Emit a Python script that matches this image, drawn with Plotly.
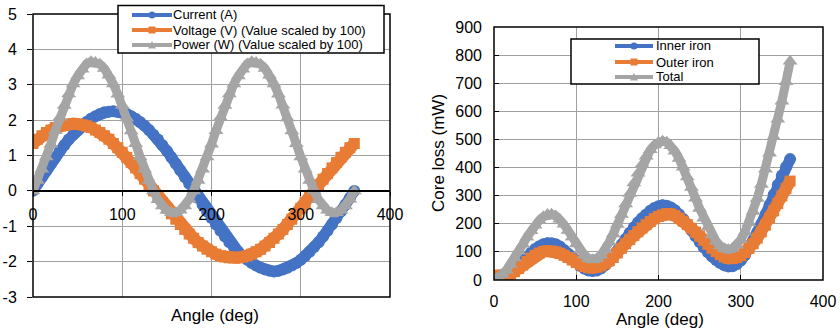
import plotly.graph_objects as go

# ---------------- data ----------------
angle = list(range(0, 361, 5))

current = [0, 0.20, 0.39, 0.58, 0.77, 0.95, 1.13, 1.29, 1.45, 1.59, 1.72, 1.84, 1.95, 2.04, 2.11, 2.17, 2.22, 2.24, 2.25,
           2.24, 2.22, 2.17, 2.11, 2.04, 1.95, 1.84, 1.72, 1.59, 1.45, 1.29, 1.13, 0.95, 0.77, 0.58, 0.39, 0.20, 0.00,
           -0.20, -0.39, -0.58, -0.77, -0.95, -1.13, -1.29, -1.45, -1.59, -1.72, -1.84, -1.95, -2.04, -2.11, -2.17, -2.22, -2.26, -2.28,
           -2.26, -2.22, -2.17, -2.11, -2.04, -1.95, -1.84, -1.72, -1.59, -1.45, -1.29, -1.13, -0.95, -0.77, -0.58, -0.39, -0.20, 0.00]

voltage = [1.34, 1.46, 1.56, 1.65, 1.72, 1.79, 1.84, 1.87, 1.89, 1.90, 1.89, 1.87, 1.84, 1.79, 1.72, 1.65, 1.56, 1.46, 1.34,
           1.22, 1.09, 0.95, 0.80, 0.65, 0.49, 0.33, 0.17, 0.00, -0.17, -0.33, -0.49, -0.65, -0.80, -0.95, -1.09, -1.22, -1.34,
           -1.46, -1.56, -1.65, -1.72, -1.79, -1.84, -1.87, -1.89, -1.90, -1.89, -1.87, -1.84, -1.79, -1.72, -1.65, -1.56, -1.46, -1.34,
           -1.22, -1.09, -0.95, -0.80, -0.65, -0.49, -0.33, -0.17, 0.00, 0.17, 0.33, 0.49, 0.65, 0.80, 0.95, 1.09, 1.22, 1.34]

power = [0, 0.29, 0.61, 0.96, 1.32, 1.70, 2.08, 2.41, 2.74, 3.02, 3.25, 3.44, 3.59, 3.65, 3.63, 3.58, 3.46, 3.27, 3.02,
         2.73, 2.42, 2.06, 1.69, 1.33, 0.96, 0.61, 0.29, 0.00, -0.25, -0.43, -0.55, -0.62, -0.62, -0.55, -0.43, -0.24, 0.00,
         0.29, 0.61, 0.96, 1.32, 1.70, 2.08, 2.41, 2.74, 3.02, 3.25, 3.44, 3.59, 3.65, 3.63, 3.58, 3.46, 3.27, 3.02,
         2.73, 2.42, 2.06, 1.69, 1.33, 0.96, 0.61, 0.29, 0.00, -0.25, -0.43, -0.55, -0.62, -0.62, -0.55, -0.43, -0.24, 0.00]

inner_iron = [0, 2, 6, 12, 22, 35, 50, 66, 82, 97, 110, 120, 127, 131, 131, 127, 119, 107, 93,
              78, 63, 50, 40, 34, 32, 34, 41, 52, 67, 82, 100, 125, 146, 168, 188, 205, 220,
              233, 246, 256, 262, 266, 264, 258, 248, 234, 217, 198, 177, 156, 135, 116, 99, 84, 71,
              60, 52, 48, 49, 56, 69, 88, 112, 139, 168, 199, 232, 267, 303, 338, 372, 402, 430]

outer_iron = [15, 14, 14, 16, 21, 30, 41, 53, 66, 78, 88, 96, 101, 103, 103, 100, 95, 88, 80,
              71, 62, 54, 48, 44, 43, 45, 50, 58, 68, 80, 96, 113, 129, 144, 158, 172, 185,
              197, 208, 218, 226, 232, 236, 235, 229, 220, 209, 197, 184, 170, 156, 141, 127, 113, 101,
              90, 82, 77, 76, 80, 87, 98, 112, 129, 149, 171, 195, 220, 246, 272, 299, 325, 352]

total = [0, 8, 20, 35, 55, 78, 102, 127, 152, 175, 195, 212, 225, 233, 234, 228, 216, 198, 176,
         152, 128, 106, 88, 76, 72, 76, 88, 108, 134, 164, 197, 233, 270, 308, 345, 380, 412,
         440, 463, 480, 490, 494, 490, 478, 458, 432, 401, 366, 329, 291, 254, 220, 188, 160, 138,
         121, 111, 108, 112, 124, 143, 170, 204, 244, 290, 340, 394, 451, 510, 572, 636, 705, 778]

left_names = ["Current (A)", "Voltage (V) (Value scaled by 100)", "Power (W) (Value scaled by 100)"]
right_names = ["Inner iron", "Outer iron", "Total"]
left_xticks = [0, 100, 200, 300, 400]
left_yticks = [-3, -2, -1, 0, 1, 2, 3, 4, 5]
right_xticks = [0, 100, 200, 300, 400]
right_yticks = [0, 100, 200, 300, 400, 500, 600, 700, 800, 900]
x_title = "Angle (deg)"
right_y_title = "Core loss (mW)"

# ---------------- style ----------------
W, H = 840, 331
BLUE, ORANGE, GRAY = "#4472C4", "#E97C35", "#A5A5A5"
GRID = "#a0a0a0"
FONT = "Liberation Sans, Arial, sans-serif"


def fx(p):
    return p / W


def fy(p):
    return 1 - p / H


L_X0, L_X1, L_Y0, L_Y1 = 33, 390, 14, 297   # left plot area (px)
R_X0, R_X1, R_Y0, R_Y1 = 494, 823, 27, 280  # right plot area (px)

fig = go.Figure()

# (color, symbol, marker size, line width)
styles = [(BLUE, "circle", 12, 11), (ORANGE, "square", 11, 12), (GRAY, "triangle-up", 13, 9)]
for name, vals, (col, sym, sz, lw) in zip(left_names, [current, voltage, power], styles):
    fig.add_trace(go.Scatter(x=angle, y=vals, name=name, mode="lines+markers",
                             line=dict(color=col, width=lw),
                             marker=dict(symbol=sym, size=sz, color=col, line=dict(width=0)),
                             xaxis="x", yaxis="y", showlegend=False))
for name, vals, (col, sym, sz, lw) in zip(right_names, [inner_iron, outer_iron, total], styles):
    fig.add_trace(go.Scatter(x=angle, y=vals, name=name, mode="lines+markers",
                             line=dict(color=col, width=lw),
                             marker=dict(symbol=sym, size=sz, color=col, line=dict(width=0)),
                             xaxis="x2", yaxis="y2", showlegend=False))

ly_dom = [fy(L_Y1), fy(L_Y0)]
zero_pos = ly_dom[0] + (0 - (-3)) / (5 - (-3)) * (ly_dom[1] - ly_dom[0])

tickfont = dict(family=FONT, size=16, color="black")

fig.update_layout(
    width=W, height=H, margin=dict(l=0, r=0, t=0, b=0, pad=0),
    paper_bgcolor="white", plot_bgcolor="white",
    font=dict(family=FONT, color="black"),
    xaxis=dict(domain=[fx(L_X0), fx(L_X1)], range=[0, 400], anchor="free", position=zero_pos,
               automargin=False,
               tickmode="array", tickvals=left_xticks, ticktext=[str(v) for v in left_xticks],
               showgrid=True, gridcolor=GRID, gridwidth=1, zeroline=False,
               showline=True, linecolor="black", linewidth=1.5,
               ticks="outside", ticklen=4, tickcolor="black", tickfont=tickfont,
               ticklabelstandoff=5),
    yaxis=dict(domain=ly_dom, range=[-3, 5], automargin=False,
               tickmode="array", tickvals=left_yticks, ticktext=[str(v) for v in left_yticks],
               showgrid=True, gridcolor=GRID, gridwidth=1, zeroline=False,
               showline=False, ticks="outside", ticklen=5, tickcolor="black",
               tickfont=tickfont, ticklabelstandoff=7),
    xaxis2=dict(domain=[fx(R_X0), fx(R_X1)], range=[0, 400], anchor="y2", automargin=False,
                tickmode="array", tickvals=right_xticks, ticktext=[str(v) for v in right_xticks],
                showgrid=True, gridcolor=GRID, gridwidth=1, zeroline=False,
                showline=False, ticks="inside", ticklen=5, tickcolor="black",
                tickfont=tickfont, ticklabelstandoff=10),
    yaxis2=dict(domain=[fy(R_Y1), fy(R_Y0)], range=[0, 900], anchor="x2", automargin=False,
                tickmode="array", tickvals=right_yticks, ticktext=[str(v) for v in right_yticks],
                showgrid=True, gridcolor=GRID, gridwidth=1, zeroline=False,
                showline=False, ticks="inside", ticklen=5, tickcolor="black",
                tickfont=tickfont, ticklabelstandoff=11),
)

shapes = []
# plot borders
shapes.append(dict(type="rect", xref="x domain", yref="y domain", x0=0, x1=1, y0=0, y1=1,
                   line=dict(color="black", width=1.5), layer="above"))
shapes.append(dict(type="rect", xref="x2 domain", yref="y2 domain", x0=0, x1=1, y0=0, y1=1,
                   line=dict(color="black", width=1.5), layer="above"))

annotations = []


def legend(box, line_x, text_x, rows, names):
    bx0, by0, bx1, by1 = box
    shapes.append(dict(type="rect", xref="paper", yref="paper",
                       x0=fx(bx0), x1=fx(bx1), y0=fy(by1), y1=fy(by0),
                       fillcolor="white", line=dict(color="black", width=1.5), layer="above"))
    lx0, lx1 = line_x
    cx = (lx0 + lx1) / 2
    for (col, sym, _, _), ry, name in zip(styles, rows, names):
        shapes.append(dict(type="line", xref="paper", yref="paper",
                           x0=fx(lx0), x1=fx(lx1), y0=fy(ry), y1=fy(ry),
                           line=dict(color=col, width=4), layer="above"))
        r = 3.5
        if sym == "circle":
            shapes.append(dict(type="circle", xref="paper", yref="paper",
                               x0=fx(cx - r), x1=fx(cx + r), y0=fy(ry + r), y1=fy(ry - r),
                               fillcolor=col, line=dict(width=0), layer="above"))
        elif sym == "square":
            shapes.append(dict(type="rect", xref="paper", yref="paper",
                               x0=fx(cx - r), x1=fx(cx + r), y0=fy(ry + r), y1=fy(ry - r),
                               fillcolor=col, line=dict(width=0), layer="above"))
        else:
            path = "M {a},{b} L {c},{d} L {e},{f} Z".format(
                a=fx(cx - 4), b=fy(ry + 3.5), c=fx(cx + 4), d=fy(ry + 3.5), e=fx(cx), f=fy(ry - 4))
            shapes.append(dict(type="path", xref="paper", yref="paper", path=path,
                               fillcolor=col, line=dict(width=0), layer="above"))
        annotations.append(dict(xref="paper", yref="paper", x=fx(text_x), y=fy(ry),
                                xanchor="left", yanchor="middle", showarrow=False,
                                text=name, font=dict(family=FONT, size=13, color="black")))


legend((118, 5.5, 384, 53), (132, 172), 171, [15, 30, 45], left_names)
legend((571, 39, 759, 84), (615, 653), 654, [46, 62, 77], right_names)

# axis titles
annotations.append(dict(xref="paper", yref="paper", x=fx((L_X0 + L_X1) / 2 + 4), y=fy(315),
                        xanchor="center", yanchor="middle", showarrow=False, text=x_title,
                        font=dict(family=FONT, size=17, color="black")))
annotations.append(dict(xref="paper", yref="paper", x=fx((R_X0 + R_X1) / 2 + 1), y=fy(319),
                        xanchor="center", yanchor="middle", showarrow=False, text=x_title,
                        font=dict(family=FONT, size=17, color="black")))
annotations.append(dict(xref="paper", yref="paper", x=fx(438), y=fy(153),
                        xanchor="center", yanchor="middle", showarrow=False, text=right_y_title,
                        textangle=-90, font=dict(family=FONT, size=17, color="black")))

fig.update_layout(shapes=shapes, annotations=annotations)
fig.write_html("out.html")
